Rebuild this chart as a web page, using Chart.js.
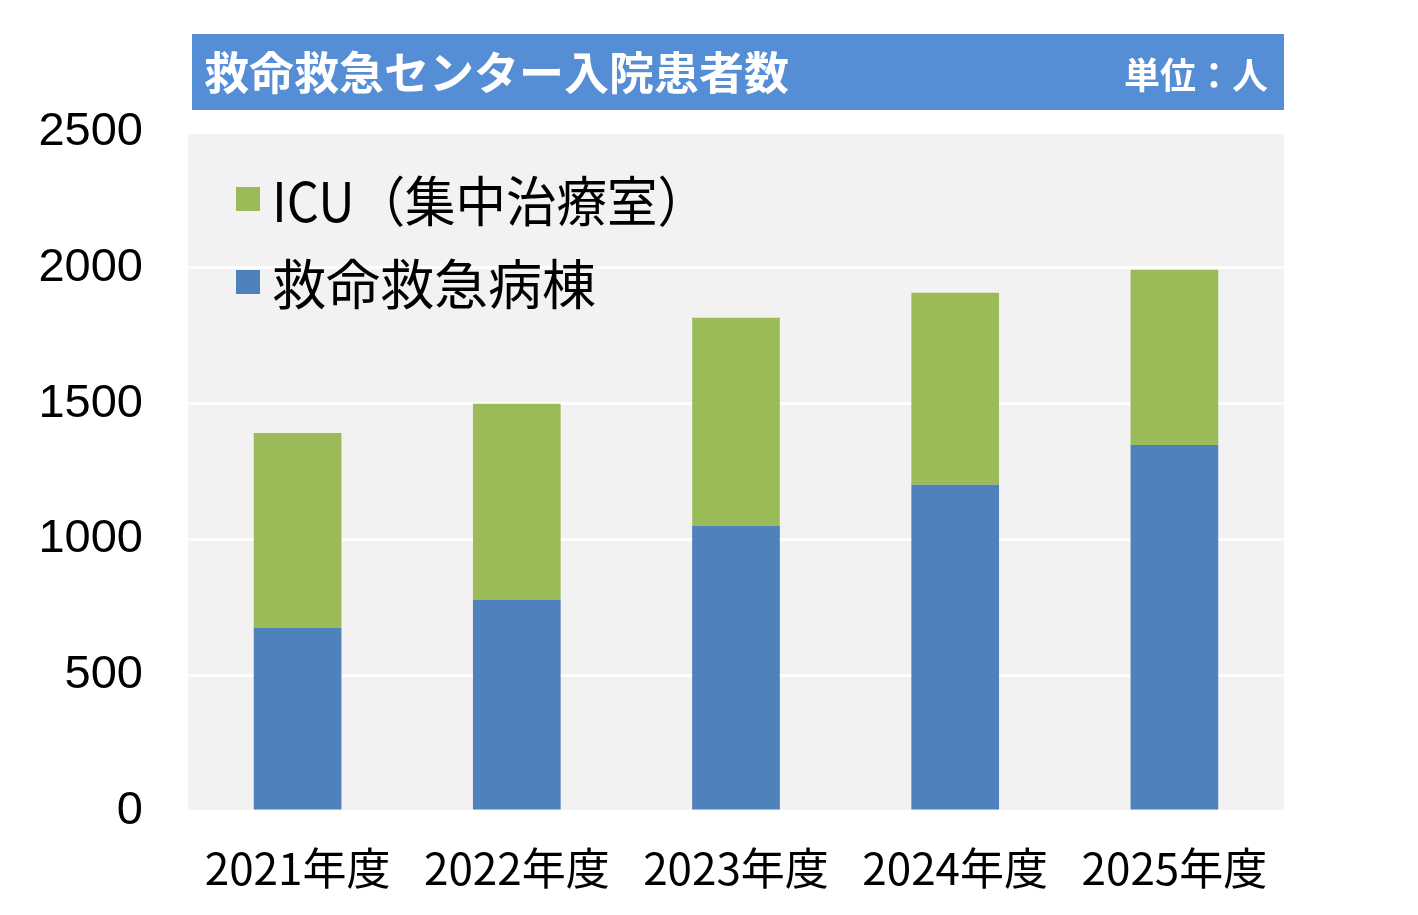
<!DOCTYPE html>
<html>
<head>
<meta charset="utf-8">
<script src="https://cdn.jsdelivr.net/npm/chart.js@4"></script>
<style>
  html, body { margin: 0; padding: 0; background: #ffffff; }
  #wrap { width: 1418px; height: 915px; }
</style>
</head>
<body>
<div id="wrap"><canvas id="chart" width="1418" height="915"></canvas></div>
<script>
// data
var years = ["2021年度", "2022年度", "2023年度", "2024年度", "2025年度"];
var wardLabel = "救命救急病棟";
var wardValues = [674, 777, 1050, 1201, 1348];
var icuLabel = "ICU（集中治療室）";
var icuValues = [718, 722, 766, 707, 645];
var yTicks = [0, 500, 1000, 1500, 2000, 2500];

var chartTitle = "救命救急センター入院患者数";
var unitText = "単位：人";

var blue = "#4F81BD";
var green = "#9BBB59";
var jpFont = "'Noto Sans CJK JP', 'Noto Sans', sans-serif";

// title bar + plot background
var backPlugin = {
	id: "backPlugin",
	beforeDraw: function(chart) {
		var ctx = chart.ctx;
		var area = chart.chartArea;
		ctx.save();
		ctx.fillStyle = "#ffffff";
		ctx.fillRect(0, 0, chart.width, chart.height);

		ctx.fillStyle = "#558ED5";
		ctx.fillRect(192, 34, area.right - 192, 76);

		ctx.fillStyle = "#ffffff";
		ctx.textBaseline = "middle";
		ctx.font = "bold 45px " + jpFont;
		ctx.textAlign = "left";
		ctx.fillText(chartTitle, 204, 73, 586);
		ctx.font = "bold 36px " + jpFont;
		ctx.textAlign = "right";
		ctx.fillText(unitText, 1268, 75);

		ctx.fillStyle = "#F2F2F2";
		ctx.fillRect(area.left, area.top, area.right - area.left, area.bottom - area.top);
		ctx.restore();
	}
};

// legend inside the plot, ICU on top
var legendWidths = [436, 328];
var legendPlugin = {
	id: "legendPlugin",
	afterDraw: function(chart) {
		var ctx = chart.ctx;
		var items = chart.data.datasets.slice().reverse();
		ctx.save();
		ctx.font = "54px " + jpFont;
		ctx.textBaseline = "middle";
		ctx.textAlign = "left";
		for (var i = 0; i < items.length; i++) {
			var y = 199 + i * 83;
			ctx.fillStyle = items[i].backgroundColor;
			ctx.fillRect(236, y - 12, 24, 24);
			ctx.fillStyle = "#000000";
			ctx.fillText(items[i].label, 272, y + 2, legendWidths[i]);
		}
		ctx.restore();
	}
};

var config = {
	type: "bar",
	data: {
		labels: years,
		datasets: [
			{ label: wardLabel, data: wardValues, backgroundColor: blue },
			{ label: icuLabel, data: icuValues, backgroundColor: green }
		]
	},
	options: {
		responsive: false,
		animation: false,
		layout: { padding: { top: 132, right: 134, left: 0, bottom: 0 } },
		datasets: { bar: { categoryPercentage: 0.8, barPercentage: 0.5 } },
		plugins: {
			legend: { display: false },
			title: { display: false },
			tooltip: { enabled: false }
		},
		scales: {
			x: {
				stacked: true,
				afterFit: function(scale) { scale.height = 104; },
				grid: { display: false },
				border: { display: false },
				ticks: {
					color: "#000000",
					font: { family: jpFont, size: 44 },
					padding: 23,
					maxRotation: 0
				}
			},
			y: {
				stacked: true,
				min: 0,
				max: 2500,
				afterBuildTicks: function(scale) {
					scale.ticks = yTicks.map(function(v) { return { value: v }; });
				},
				afterFit: function(scale) { scale.width = 188; },
				grid: { color: "#ffffff", lineWidth: 3, drawTicks: false },
				border: { display: false },
				ticks: {
					color: "#000000",
					font: { family: "'Liberation Sans', Arial, sans-serif", size: 47 },
					padding: 45,
					callback: function(value) { return String(value); }
				}
			}
		}
	},
	plugins: [backPlugin, legendPlugin]
};

var myChart = new Chart(document.getElementById("chart"), config);
</script>
</body>
</html>
